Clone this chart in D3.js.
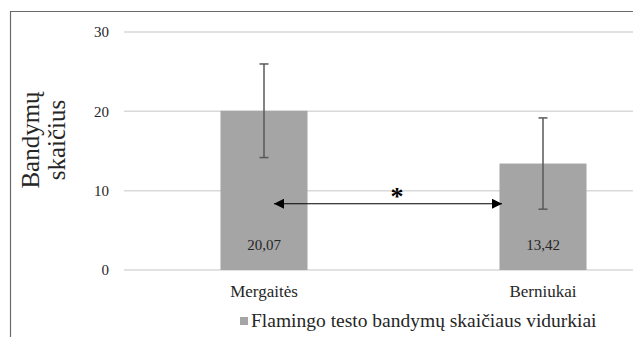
<!DOCTYPE html>
<html>
<head>
<meta charset="utf-8">
<script src="https://cdn.jsdelivr.net/npm/d3@7"></script>
<style>
  html, body { margin: 0; padding: 0; background: #fff; }
  svg { display: block; }
  text { font-family: "Liberation Serif", "Times New Roman", serif; fill: #262626; }
</style>
</head>
<body>
<svg id="chart" width="633" height="337"></svg>
<script>
// Flamingo balance test: mean number of attempts by group
const categories = ["Mergaitės", "Berniukai"];
const means = [20.07, 13.42];
const meanLabels = ["20,07", "13,42"];
const errors = [5.9, 5.75];
const yTicks = [0, 10, 20, 30];
const seriesName = "Flamingo testo bandymų skaičiaus vidurkiai";
const axisTitle = ["Bandymų", "skaičius"];
const significanceLevel = 8.35;   // height of the comparison arrow
const significanceMark = "*";

const svg = d3.select("#chart");
const W = 633, H = 337;

// chart frame (top and left edges visible)
svg.append("path")
  .attr("d", `M10.5,${H} L10.5,11.5 L${W},11.5`)
  .attr("fill", "none")
  .attr("stroke", "#6b6b6b")
  .attr("stroke-width", 1.2);

const y = d3.scaleLinear().domain([0, 30]).range([270, 32]);
const x = d3.scalePoint().domain(categories).range([124.5, 682.5]).padding(0.5);
const barW = x.step() * 0.312;

// gridlines
svg.append("g").selectAll("line").data(yTicks).join("line")
  .attr("x1", 124).attr("x2", W)
  .attr("y1", d => y(d)).attr("y2", d => y(d))
  .attr("stroke", "#d9d9d9").attr("stroke-width", 1.5);

// y tick labels
svg.append("g").selectAll("text").data(yTicks).join("text")
  .attr("x", 109).attr("y", d => y(d))
  .attr("dy", "0.35em")
  .attr("text-anchor", "end")
  .attr("font-size", 15)
  .text(d => d);

// bars
svg.append("g").selectAll("rect").data(means).join("rect")
  .attr("x", (d, i) => x(categories[i]) - barW / 2)
  .attr("width", barW)
  .attr("y", d => y(d))
  .attr("height", d => y(0) - y(d))
  .attr("fill", "#a5a5a5");

// error bars
const eb = svg.append("g").attr("stroke", "#595959").attr("stroke-width", 1.5);
means.forEach((m, i) => {
  const cx = x(categories[i]);
  eb.append("line").attr("x1", cx).attr("x2", cx)
    .attr("y1", y(m + errors[i])).attr("y2", y(m - errors[i]));
  [m + errors[i], m - errors[i]].forEach(v => {
    eb.append("line").attr("x1", cx - 4.5).attr("x2", cx + 4.5)
      .attr("y1", y(v)).attr("y2", y(v));
  });
});

// value labels inside the bars
svg.append("g").selectAll("text").data(meanLabels).join("text")
  .attr("x", (d, i) => x(categories[i]))
  .attr("y", 250)
  .attr("text-anchor", "middle")
  .attr("font-size", 15)
  .text(d => d);

// category labels
svg.append("g").selectAll("text").data(categories).join("text")
  .attr("x", d => x(d))
  .attr("y", 297)
  .attr("text-anchor", "middle")
  .attr("font-size", 17)
  .text(d => d);

// significance arrow between the groups
const defs = svg.append("defs");
["start", "end"].forEach(k => {
  defs.append("marker")
    .attr("id", "head-" + k)
    .attr("viewBox", "0 0 10 10")
    .attr("refX", k === "end" ? 10 : 0).attr("refY", 5)
    .attr("markerWidth", 11).attr("markerHeight", 10)
    .attr("markerUnits", "userSpaceOnUse")
    .attr("orient", "auto")
    .append("path")
    .attr("d", k === "end" ? "M0,0 L10,5 L0,10 Z" : "M10,0 L0,5 L10,10 Z")
    .attr("fill", "#000");
});
const ax1 = x(categories[0]) + 10, ax2 = x(categories[1]) - 41;
svg.append("line")
  .attr("x1", ax1).attr("x2", ax2)
  .attr("y1", y(significanceLevel)).attr("y2", y(significanceLevel))
  .attr("stroke", "#000").attr("stroke-width", 1.2)
  .attr("marker-start", "url(#head-start)")
  .attr("marker-end", "url(#head-end)");
svg.append("text")
  .attr("x", (ax1 + ax2) / 2 + 9)
  .attr("y", y(significanceLevel) + 1)
  .attr("text-anchor", "middle")
  .attr("font-size", 26)
  .attr("font-weight", "bold")
  .attr("font-family", "Liberation Sans, Arial, sans-serif")
  .style("fill", "#000")
  .text(significanceMark);

// y axis title, two lines
const t = svg.append("text")
  .attr("transform", "translate(40,140) rotate(-90)")
  .attr("text-anchor", "middle")
  .attr("font-size", 25);
axisTitle.forEach((s, i) => {
  t.append("tspan").attr("x", 0).attr("dy", i === 0 ? -1.5 : 26.5).text(s);
});

// legend
const lg = svg.append("g");
lg.append("rect").attr("x", 240).attr("y", 317).attr("width", 8).attr("height", 8).attr("fill", "#a5a5a5");
lg.append("text").attr("x", 251).attr("y", 327).attr("font-size", 19.5).text(seriesName);
</script>
</body>
</html>
